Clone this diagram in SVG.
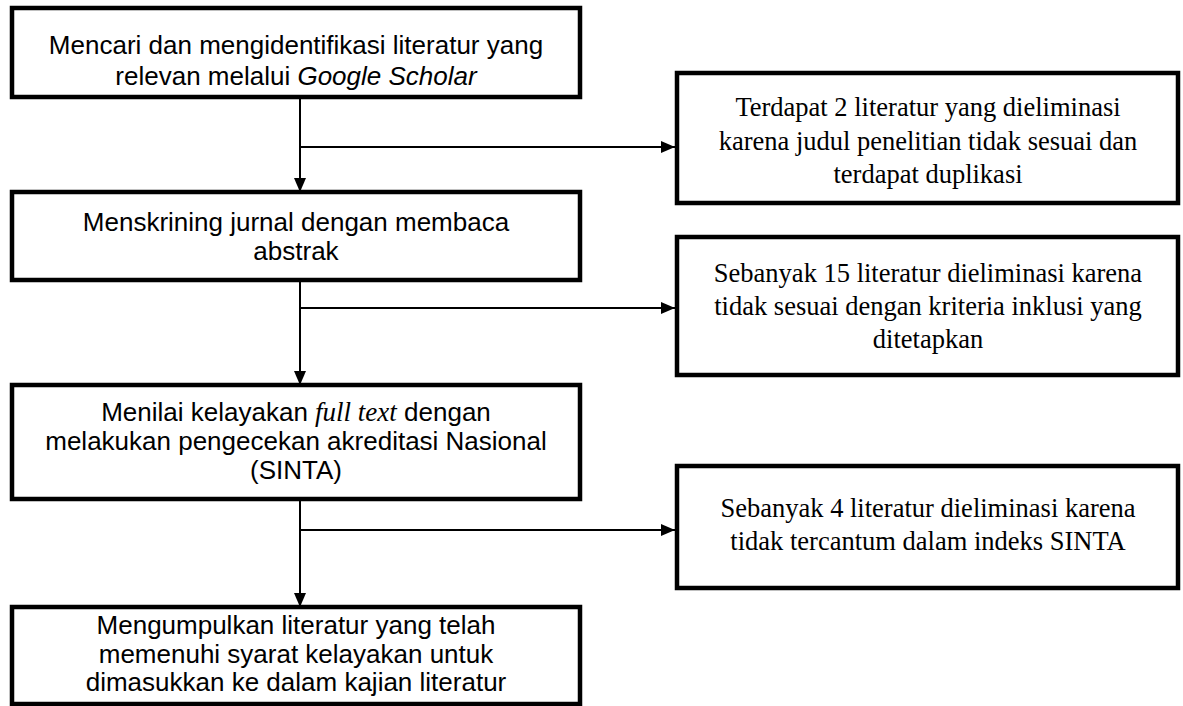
<svg xmlns="http://www.w3.org/2000/svg" width="1183" height="706" viewBox="0 0 1183 706">
<defs>
<marker id="ah" markerWidth="14" markerHeight="12" refX="14" refY="6" orient="auto" markerUnits="userSpaceOnUse">
<path d="M0,0 L14,6 L0,12 Z" fill="#000"/>
</marker>
<style>
.box{fill:#fff;stroke:#000;stroke-width:4.5}
.sans{font-family:"Liberation Sans",Arial,sans-serif;font-size:26px;fill:#000;text-anchor:middle}
.serif{font-family:"Liberation Serif","Times New Roman",serif;font-size:26.5px;fill:#000;text-anchor:middle}
.ln{stroke:#000;stroke-width:2;fill:none}
</style>
</defs>
<rect width="1183" height="706" fill="#fff"/>
<g id="connectors">
<line class="ln" x1="300" y1="97" x2="300" y2="192" marker-end="url(#ah)"/>
<line class="ln" x1="300" y1="147" x2="675" y2="147" marker-end="url(#ah)"/>
<line class="ln" x1="300" y1="280" x2="300" y2="385" marker-end="url(#ah)"/>
<line class="ln" x1="300" y1="308" x2="675" y2="308" marker-end="url(#ah)"/>
<line class="ln" x1="300" y1="499" x2="300" y2="607" marker-end="url(#ah)"/>
<line class="ln" x1="300" y1="530" x2="675" y2="530" marker-end="url(#ah)"/>
</g>
<g id="n1">
<rect class="box" x="12" y="8" width="568" height="89"/>
<text class="sans" x="296" y="54">Mencari dan mengidentifikasi literatur yang</text>
<text class="sans" x="296" y="85">relevan melalui <tspan font-style="italic">Google Scholar</tspan></text>
</g>
<g id="n2">
<rect class="box" x="12" y="192" width="568" height="88"/>
<text class="sans" x="296" y="231">Menskrining jurnal dengan membaca</text>
<text class="sans" x="296" y="260">abstrak</text>
</g>
<g id="n3">
<rect class="box" x="12" y="385" width="568" height="114"/>
<text class="sans" x="296" y="421">Menilai kelayakan <tspan font-family="'Liberation Serif',serif" font-style="italic" font-size="27">full text</tspan> dengan</text>
<text class="sans" x="296" y="450">melakukan pengecekan akreditasi Nasional</text>
<text class="sans" x="296" y="479">(SINTA)</text>
</g>
<g id="n4">
<rect class="box" x="12" y="607" width="568" height="97"/>
<text class="sans" x="296" y="634">Mengumpulkan literatur yang telah</text>
<text class="sans" x="296" y="663">memenuhi syarat kelayakan untuk</text>
<text class="sans" x="296" y="691">dimasukkan ke dalam kajian literatur</text>
</g>
<g id="r1">
<rect class="box" x="677" y="73" width="501" height="130"/>
<text class="serif" x="928" y="116">Terdapat 2 literatur yang dieliminasi</text>
<text class="serif" x="928" y="150">karena judul penelitian tidak sesuai dan</text>
<text class="serif" x="928" y="183">terdapat duplikasi</text>
</g>
<g id="r2">
<rect class="box" x="677" y="237" width="501" height="138"/>
<text class="serif" x="928" y="282">Sebanyak 15 literatur dieliminasi karena</text>
<text class="serif" x="928" y="315">tidak sesuai dengan kriteria inklusi yang</text>
<text class="serif" x="928" y="348">ditetapkan</text>
</g>
<g id="r3">
<rect class="box" x="677" y="466" width="501" height="122"/>
<text class="serif" x="928" y="517">Sebanyak 4 literatur dieliminasi karena</text>
<text class="serif" x="928" y="550">tidak tercantum dalam indeks SINTA</text>
</g>
</svg>
